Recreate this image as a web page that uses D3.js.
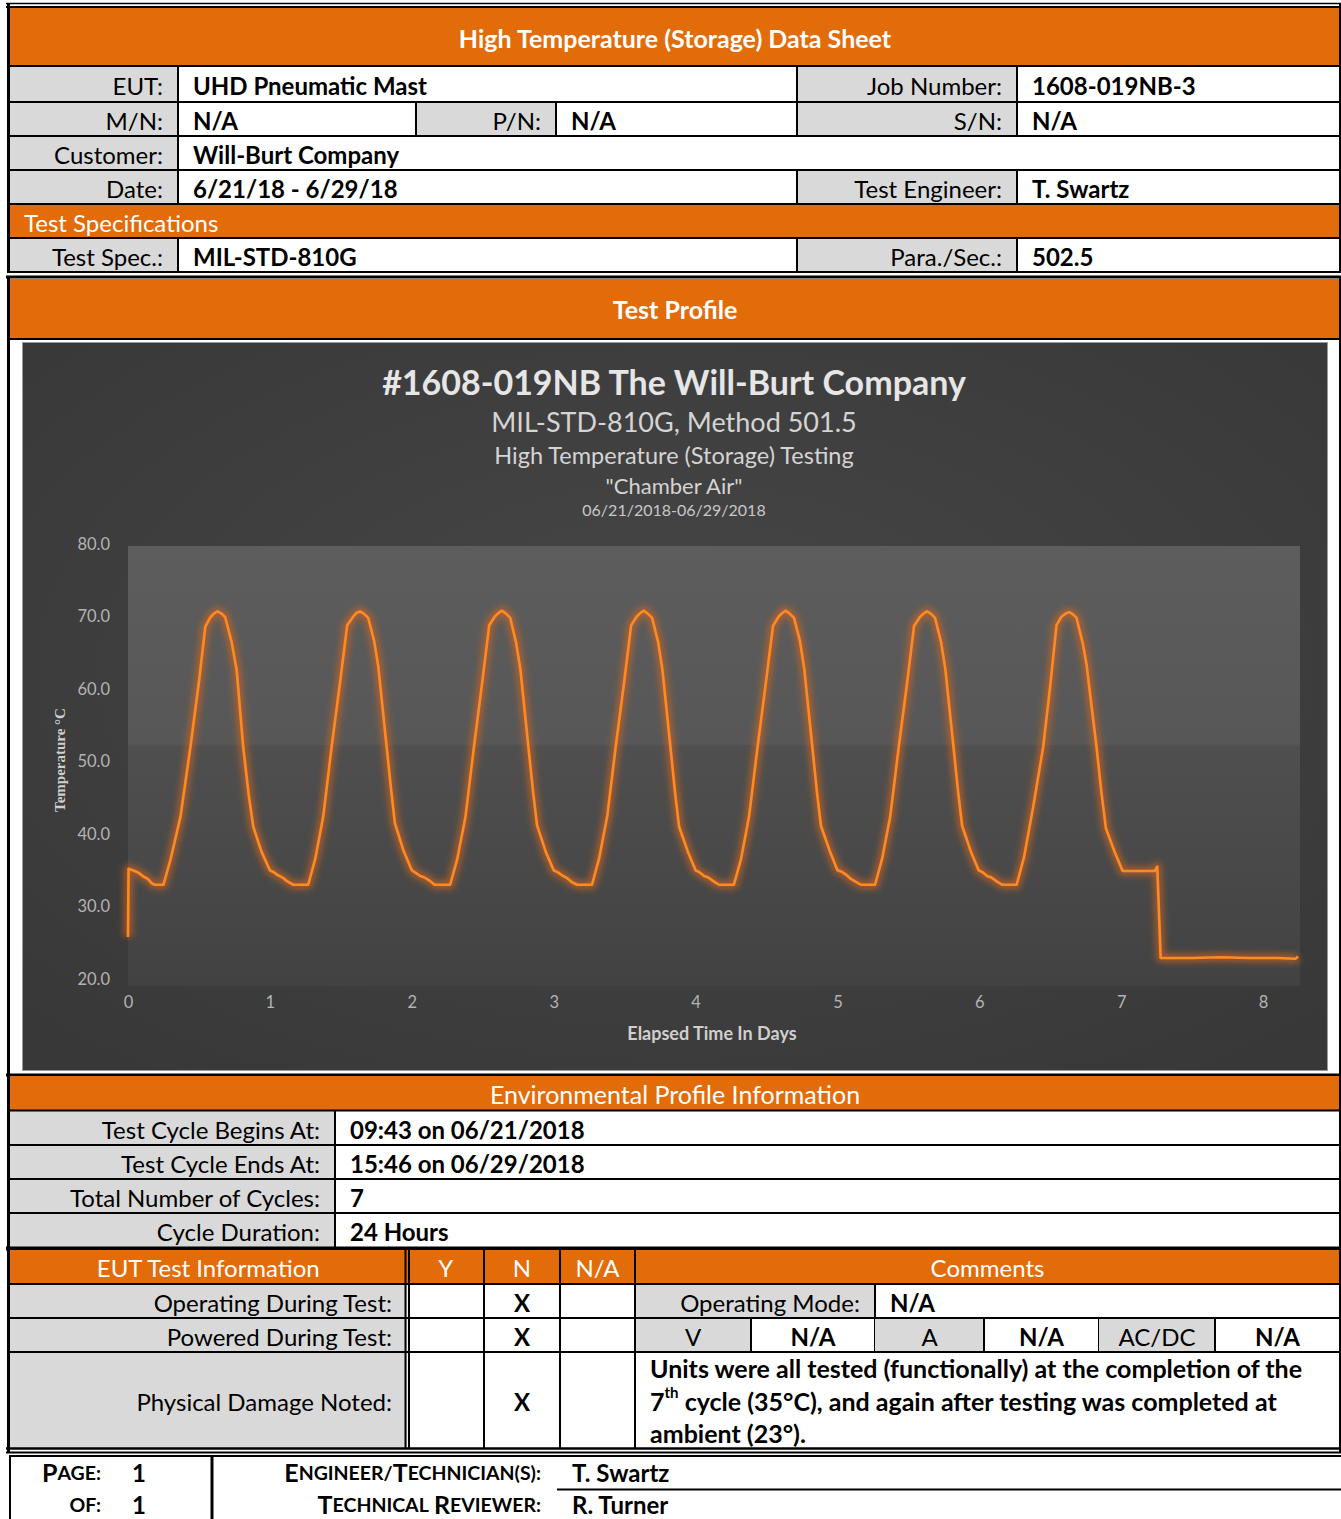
<!DOCTYPE html>
<html lang="en">
<head>
<meta charset="UTF-8" />
<title>High Temperature (Storage) Data Sheet</title>
<script src="https://d3js.org/d3.v7.min.js"></script>
<style>
  body { margin: 0; background: #fff; }
  svg { display: block; }
</style>
</head>
<body>
<script>
// ---- sheet text ----
const sheetTitle = "High Temperature (Storage) Data Sheet";
const rowEut = ["EUT:", "UHD Pneumatic Mast", "Job Number:", "1608-019NB-3"];
const rowModel = ["M/N:", "N/A", "P/N:", "N/A", "S/N:", "N/A"];
const rowCustomer = ["Customer:", "Will-Burt Company"];
const rowDate = ["Date:", "6/21/18 - 6/29/18", "Test Engineer:", "T. Swartz"];
const specHeading = "Test Specifications";
const rowSpec = ["Test Spec.:", "MIL-STD-810G", "Para./Sec.:", "502.5"];
const profileHeading = "Test Profile";

// ---- chart text ----
const chartTitles = [
  "#1608-019NB The Will-Burt Company",
  "MIL-STD-810G, Method 501.5",
  "High Temperature (Storage) Testing",
  "\"Chamber Air\"",
  "06/21/2018-06/29/2018"
];
const xTitle = "Elapsed Time In Days";
const yTitle = "Temperature °C";
const xTicks = [0, 1, 2, 3, 4, 5, 6, 7, 8];
const yTicks = [20, 30, 40, 50, 60, 70, 80];

// ---- chamber air temperature ----
const elapsedDays = [
  0.000, 0.004, 0.060, 0.085, 0.110, 0.140, 0.167, 0.190, 0.250, 0.300, 0.370, 0.440, 0.500, 0.545, 0.578, 0.605, 0.630, 0.660, 0.685, 0.730, 0.766, 0.812, 0.850, 0.883, 0.940,
  1.000, 1.030, 1.050, 1.095, 1.120, 1.165, 1.270, 1.320, 1.376, 1.435, 1.495, 1.545, 1.588, 1.610, 1.635, 1.662, 1.693, 1.735, 1.764, 1.823, 1.855, 1.881, 1.940,
  2.000, 2.030, 2.060, 2.090, 2.130, 2.160, 2.270, 2.320, 2.378, 2.438, 2.498, 2.546, 2.585, 2.612, 2.636, 2.664, 2.694, 2.735, 2.765, 2.822, 2.855, 2.883, 2.945,
  3.000, 3.030, 3.060, 3.095, 3.125, 3.165, 3.270, 3.320, 3.378, 3.437, 3.497, 3.546, 3.586, 3.612, 3.636, 3.663, 3.694, 3.736, 3.766, 3.823, 3.856, 3.884, 3.945,
  4.000, 4.030, 4.060, 4.090, 4.125, 4.165, 4.270, 4.320, 4.377, 4.437, 4.497, 4.546, 4.586, 4.612, 4.636, 4.663, 4.694, 4.736, 4.766, 4.823, 4.856, 4.884, 4.945,
  5.000, 5.030, 5.060, 5.095, 5.130, 5.165, 5.265, 5.315, 5.372, 5.432, 5.492, 5.540, 5.580, 5.606, 5.630, 5.658, 5.688, 5.730, 5.760, 5.818, 5.851, 5.879, 5.940,
  5.995, 6.025, 6.055, 6.085, 6.120, 6.160, 6.263, 6.315, 6.380, 6.450, 6.500, 6.544, 6.580, 6.608, 6.633, 6.660, 6.685, 6.730, 6.756, 6.826, 6.860, 6.892, 6.950,
  7.010, 7.237, 7.254, 7.278, 7.500, 7.700, 7.900, 8.100, 8.230, 8.245
];
const chamberTemp = [
  25.8, 35.2, 34.8, 34.5, 34.1, 33.8, 33.2, 33.0, 33.0, 36.5, 42.4, 52.0, 61.0, 68.6, 69.8, 70.4, 70.7, 70.4, 69.9, 66.5, 62.6, 52.0, 45.5, 41.0, 37.6,
  35.0, 34.7, 34.4, 33.9, 33.5, 33.0, 33.0, 36.6, 42.4, 52.0, 61.0, 68.8, 70.0, 70.5, 70.7, 70.4, 69.8, 66.6, 63.1, 52.0, 46.0, 41.5, 37.8,
  35.0, 34.6, 34.2, 34.0, 33.5, 33.0, 33.0, 36.5, 42.3, 52.0, 61.2, 68.8, 70.0, 70.5, 70.8, 70.4, 69.8, 66.4, 62.8, 52.0, 45.8, 41.2, 37.5,
  35.0, 34.7, 34.3, 33.9, 33.4, 33.0, 33.0, 36.6, 42.5, 52.0, 61.0, 68.8, 70.0, 70.5, 70.8, 70.4, 69.8, 66.5, 62.7, 52.0, 45.6, 41.0, 37.6,
  35.0, 34.7, 34.2, 34.0, 33.5, 33.0, 33.0, 36.5, 42.4, 52.0, 61.1, 68.7, 70.0, 70.5, 70.8, 70.4, 69.8, 66.6, 62.8, 52.0, 45.7, 41.1, 37.7,
  35.0, 34.8, 34.4, 33.8, 33.4, 33.0, 33.0, 36.6, 42.4, 52.0, 61.0, 68.7, 69.9, 70.4, 70.7, 70.4, 69.8, 66.5, 62.8, 52.0, 45.7, 41.1, 37.6,
  35.0, 34.7, 34.2, 34.0, 33.5, 33.0, 33.0, 36.8, 43.8, 52.0, 60.5, 68.8, 70.0, 70.4, 70.6, 70.3, 69.8, 66.2, 63.3, 52.0, 45.8, 40.8, 37.7,
  34.9, 34.9, 35.5, 22.9, 22.9, 23.0, 22.9, 22.9, 22.8, 23.1
];

// ---- lower tables ----
const envHeading = "Environmental Profile Information";
const envRows = [
  ["Test Cycle Begins At:", "09:43 on 06/21/2018"],
  ["Test Cycle Ends At:", "15:46 on 06/29/2018"],
  ["Total Number of Cycles:", "7"],
  ["Cycle Duration:", "24 Hours"]
];
const eutHeads = ["EUT Test Information", "Y", "N", "N/A", "Comments"];
const eutRows = [
  ["Operating During Test:", "", "X", ""],
  ["Powered During Test:", "", "X", ""],
  ["Physical Damage Noted:", "", "X", ""]
];
const operatingMode = ["Operating Mode:", "N/A"];
const powerCells = [["V", "N/A"], ["A", "N/A"], ["AC/DC", "N/A"]];
const damageNote = [
  ["Units were all tested (functionally) at the completion of the"],
  ["7", "th", " cycle (35°C), and again after testing was completed at"],
  ["ambient (23°)."]
];
const footerLeft = [["PAGE:", "1"], ["OF:", "1"]];
const footerRight = [["ENGINEER/TECHNICIAN(S):", "T. Swartz"], ["TECHNICAL REVIEWER:", "R. Turner"]];

// ---- drawing ----
const W = 1341, H = 1519;
const FONT = "Lato, 'Open Sans', sans-serif";
const ORANGE = "#e36c0a", GRAY = "#d9d9d9";

const svg = d3.select("body").append("svg").attr("width", W).attr("height", H);

function box(x0, y0, x1, y1, fill) {
  svg.append("rect").attr("x", x0).attr("y", y0)
    .attr("width", x1 - x0).attr("height", y1 - y0).attr("fill", fill);
}
function hline(y, x0, x1, w = 2) {
  svg.append("line").attr("x1", x0).attr("x2", x1).attr("y1", y).attr("y2", y)
    .attr("stroke", "#000").attr("stroke-width", w);
}
function vline(x, y0, y1, w = 2) {
  svg.append("line").attr("x1", x).attr("x2", x).attr("y1", y0).attr("y2", y1)
    .attr("stroke", "#000").attr("stroke-width", w);
}
function label(parent, x, y, s, o = {}) {
  return parent.append("text").attr("x", x).attr("y", y)
    .attr("dominant-baseline", "central")
    .attr("text-anchor", o.anchor || "start")
    .attr("font-family", o.family || FONT)
    .attr("font-size", o.size || 24)
    .attr("font-weight", o.weight || 400)
    .attr("fill", o.fill || "#000")
    .text(s);
}

// columns of the top table
const L = 9, R = 1340, cA = 178, cB = 416, cC = 556, cD = 797, cE = 1017;
const rowsY = [66, 102, 136, 170, 204, 238, 272];

box(L, 7, R, rowsY[0], ORANGE);
label(svg, 675, 38, sheetTitle, { anchor: "middle", weight: 700, fill: "#fff", size: 25 });

function pairRow(i, cells, cuts) {
  const y0 = rowsY[i], y1 = rowsY[i + 1], ym = (y0 + y1) / 2 + 1;
  const edges = [L].concat(cuts, [R]);
  cells.forEach((s, j) => {
    const a = edges[j], b = edges[j + 1];
    const isLabel = j % 2 === 0;
    box(a, y0, b, y1, isLabel ? GRAY : "#fff");
    if (isLabel) label(svg, b - 15, ym, s, { anchor: "end" });
    else label(svg, a + 15, ym, s, { weight: 700 });
  });
  cuts.forEach(x => vline(x, y0, y1));
}
pairRow(0, rowEut, [cA, cD, cE]);
pairRow(1, rowModel, [cA, cB, cC, cD, cE]);
pairRow(2, rowCustomer, [cA]);
pairRow(3, rowDate, [cA, cD, cE]);
box(L, rowsY[4], R, rowsY[5], ORANGE);
label(svg, 24, (rowsY[4] + rowsY[5]) / 2 + 1, specHeading, { fill: "#fff" });
pairRow(5, rowSpec, [cA, cD, cE]);

hline(3.5, 6, W, 1.5);
hline(7, 6, W, 2);
rowsY.forEach(y => hline(y, L, R, 2));
hline(277, 6, W, 3);
vline(8.5, 3, 273, 3);
vline(1340, 3, 273, 2);

// ---- test profile ----
box(L, 279, R, 338, ORANGE);
label(svg, 675, 309, profileHeading, { anchor: "middle", weight: 700, fill: "#fff", size: 25 });
hline(339, L, R, 2);

const defs = svg.append("defs");
const bg = defs.append("radialGradient").attr("id", "chartBg").attr("cx", "50%").attr("cy", "45%").attr("r", "70%");
bg.append("stop").attr("offset", "0%").attr("stop-color", "#474747");
bg.append("stop").attr("offset", "100%").attr("stop-color", "#383838");
const pg = defs.append("linearGradient").attr("id", "plotBg").attr("x1", 0).attr("x2", 0).attr("y1", 0).attr("y2", 1);
[["0%", "#5d5d5d"], ["45%", "#575757"], ["45.5%", "#4f4f4f"], ["80%", "#474747"], ["100%", "#424242"]]
  .forEach(([o, c]) => pg.append("stop").attr("offset", o).attr("stop-color", c));
defs.append("filter").attr("id", "glow").attr("x", "-5%").attr("y", "-10%").attr("width", "110%").attr("height", "120%")
  .append("feGaussianBlur").attr("stdDeviation", 3);

const chartBox = { x0: 22, y0: 342, x1: 1328, y1: 1071 };
box(chartBox.x0, chartBox.y0, chartBox.x1, chartBox.y1, "url(#chartBg)");
svg.append("rect").attr("x", chartBox.x0 + 0.5).attr("y", chartBox.y0 + 0.5)
  .attr("width", chartBox.x1 - chartBox.x0 - 1).attr("height", chartBox.y1 - chartBox.y0 - 1)
  .attr("fill", "none").attr("stroke", "#9a9a9a").attr("stroke-width", 1);

const x = d3.scaleLinear().domain([0, 8.26]).range([128, 1300]);
const y = d3.scaleLinear().domain([20, 80]).range([979, 544]);

svg.append("rect").attr("x", x(0)).attr("y", 546)
  .attr("width", x(8.26) - x(0)).attr("height", 440).attr("fill", "url(#plotBg)");

const titleSpec = [
  { y: 381, size: 34, weight: 700, fill: "#e6e6e6" },
  { y: 421, size: 27, weight: 400, fill: "#d4d4d4" },
  { y: 455, size: 23.5, weight: 400, fill: "#d4d4d4" },
  { y: 485, size: 22, weight: 400, fill: "#d4d4d4" },
  { y: 509, size: 16, weight: 400, fill: "#c8c8c8" }
];
chartTitles.forEach((s, i) => label(svg, 674, titleSpec[i].y, s,
  { anchor: "middle", size: titleSpec[i].size, weight: titleSpec[i].weight, fill: titleSpec[i].fill }));

const yAxis = svg.append("g").attr("transform", `translate(${x(0)},0)`)
  .call(d3.axisLeft(y).tickValues(yTicks).tickFormat(d3.format(".1f")).tickSize(0).tickPadding(18));
const xAxis = svg.append("g").attr("transform", `translate(0,${y(20)})`)
  .call(d3.axisBottom(x).tickValues(xTicks).tickFormat(d3.format("d")).tickSize(0).tickPadding(17));
[yAxis, xAxis].forEach(g => {
  g.select(".domain").remove();
  g.selectAll("text").attr("font-family", FONT).attr("font-size", 16.5).attr("fill", "#b4b4b4");
});

label(svg, 712, 1033, xTitle, { anchor: "middle", size: 18, weight: 700, fill: "#cfcfcf" });
label(svg, 0, 0, yTitle, { anchor: "middle", size: 15, weight: 700, fill: "#cfcfcf", family: "'Liberation Serif', serif" })
  .attr("transform", "translate(60,760) rotate(-90)");

const points = elapsedDays.map((d, i) => [d, chamberTemp[i]]);
const line = d3.line().x(d => x(d[0])).y(d => y(d[1]));
svg.append("path").datum(points).attr("d", line).attr("fill", "none")
  .attr("stroke", "#d8661a").attr("stroke-width", 9).attr("stroke-opacity", 0.6)
  .attr("stroke-linejoin", "round").attr("filter", "url(#glow)");
svg.append("path").datum(points).attr("d", line).attr("fill", "none")
  .attr("stroke", "#ff8a22").attr("stroke-width", 2.6).attr("stroke-linejoin", "round");

vline(8.5, 276, 1076, 3);
vline(1340, 276, 1076, 2);
hline(1075, 6, W, 3);

// ---- environmental profile ----
const envY = [1076, 1111, 1145, 1179, 1213, 1247];
const envCut = 335;
box(L, envY[0], R, 1110, ORANGE);
label(svg, 675, 1094, envHeading, { anchor: "middle", fill: "#fff", size: 25 });
envRows.forEach((r, i) => {
  const y0 = envY[i + 1], y1 = envY[i + 1] + 34, ym = (y0 + y1) / 2 + 1;
  box(L, y0, envCut, y1, GRAY);
  box(envCut, y0, R, y1, "#fff");
  label(svg, envCut - 15, ym, r[0], { anchor: "end" });
  label(svg, envCut + 15, ym, r[1], { weight: 700 });
  vline(envCut, y0, y1);
});
hline(1110.5, L, R, 2);
[1145, 1179, 1213].forEach(yy => hline(yy, L, R, 2));
hline(1248.5, 6, W, 4);

// ---- EUT test information ----
const eutCols = [L, 407.5, 484, 560, 635, R];
const eutY = [1250, 1284, 1318, 1352, 1448];
box(L, eutY[0], R, eutY[1], ORANGE);
eutHeads.forEach((s, i) => label(svg, (eutCols[i] + eutCols[i + 1]) / 2, 1267, s, { anchor: "middle", fill: "#fff" }));
eutRows.forEach((r, i) => {
  const y0 = eutY[i + 1], y1 = eutY[i + 2], ym = (y0 + y1) / 2 + 1;
  box(L, y0, eutCols[1], y1, GRAY);
  box(eutCols[1], y0, eutCols[4], y1, "#fff");
  label(svg, 392, ym, r[0], { anchor: "end" });
  r.slice(1).forEach((s, j) => {
    if (s) label(svg, (eutCols[j + 1] + eutCols[j + 2]) / 2, ym, s, { anchor: "middle", weight: 700 });
  });
});
// comments column
const cm = [635, 751, 875, 984, 1099, 1215, R];
box(cm[0], eutY[1], cm[2], eutY[2], GRAY);
box(cm[2], eutY[1], R, eutY[2], "#fff");
label(svg, cm[2] - 15, 1302, operatingMode[0], { anchor: "end" });
label(svg, cm[2] + 15, 1302, operatingMode[1], { weight: 700 });
powerCells.forEach((p, i) => {
  const a = cm[i * 2], b = cm[i * 2 + 1], c = cm[i * 2 + 2];
  box(a, eutY[2], b, eutY[3], GRAY);
  box(b, eutY[2], c, eutY[3], "#fff");
  label(svg, (a + b) / 2, 1336, p[0], { anchor: "middle" });
  label(svg, (b + c) / 2, 1336, p[1], { anchor: "middle", weight: 700 });
  vline(b, eutY[2], eutY[3]);
  vline(c, eutY[2], eutY[3]);
});
vline(cm[2], eutY[1], eutY[2]);
box(cm[0], eutY[3], R, eutY[4], "#fff");
damageNote.forEach((parts, i) => {
  const t = svg.append("text").attr("x", 650).attr("y", 1368 + i * 32.5)
    .attr("dominant-baseline", "central").attr("font-family", FONT)
    .attr("font-size", 25).attr("font-weight", 700).attr("fill", "#000");
  if (parts.length === 1) t.text(parts[0]);
  else {
    t.append("tspan").text(parts[0]);
    t.append("tspan").attr("font-size", 15).attr("dy", -9).text(parts[1]);
    t.append("tspan").attr("dy", 9).text(parts[2]);
  }
});
[1284, 1318, 1352].forEach(yy => hline(yy, L, R, 2));
vline(405.5, 1249, 1449, 2);
vline(409, 1249, 1449, 2);
[484, 560, 635].forEach(xx => vline(xx, 1249, 1449, 2));
vline(8.5, 1075, 1452, 3);
vline(1340, 1075, 1452, 2);
hline(1448.5, 6, W, 2.5);
hline(1452.5, 6, W, 2);

// ---- footer ----
vline(10, 1455, H, 2);
vline(212, 1455, H, 3);
hline(1456, 10, W, 2);
hline(1489.5, 557, W, 2);
function smallCaps(xr, ym, s) {
  const t = svg.append("text").attr("x", xr).attr("y", ym).attr("text-anchor", "end")
    .attr("dominant-baseline", "central").attr("font-family", FONT)
    .attr("font-weight", 700).attr("fill", "#000");
  s.split(/(\s+)/).forEach(word => {
    if (!word.trim()) { t.append("tspan").attr("font-size", 21).text(word); return; }
    if (word === "OF:") { t.append("tspan").attr("font-size", 19.5).text(word); return; }
    // a capital after "/" also gets full size
    word.split(/(\/)/).forEach(part => {
      if (!part) return;
      if (part === "/") { t.append("tspan").attr("font-size", 19.5).text(part); return; }
      t.append("tspan").attr("font-size", 25).text(part[0]);
      t.append("tspan").attr("font-size", 19.5).text(part.slice(1));
    });
  });
}
footerLeft.forEach((r, i) => {
  const ym = 1472 + i * 32;
  smallCaps(101, ym, r[0]);
  label(svg, 132, ym, r[1], { weight: 700, size: 24 });
});
footerRight.forEach((r, i) => {
  const ym = 1472 + i * 32;
  smallCaps(541, ym, r[0]);
  label(svg, 572, ym, r[1], { weight: 700, size: 24 });
});
</script>
</body>
</html>
